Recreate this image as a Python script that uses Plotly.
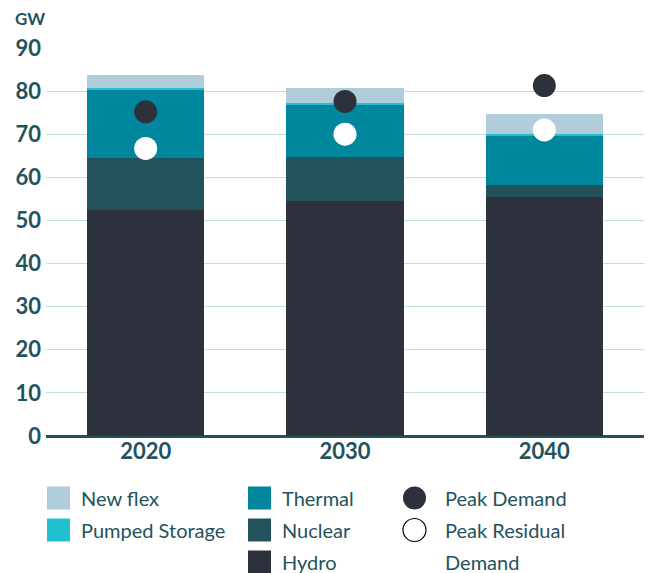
import plotly.graph_objects as go

# Installed capacity by source (GW) and peak demand markers
years = ["2020", "2030", "2040"]
hydro = [52.4, 54.4, 55.5]
nuclear = [12.2, 10.4, 2.7]
thermal = [15.7, 12.0, 11.4]
pumped_storage = [0.4, 0.4, 0.4]
new_flex = [3.1, 3.6, 4.6]
peak_demand = [75.2, 77.6, 81.3]
peak_residual_demand = [66.7, 70.0, 71.0]

y_ticks = [0, 10, 20, 30, 40, 50, 60, 70, 80, 90]

TEXT = "#24525c"
FONT = "Lato"

stack = [
    ("Hydro", hydro, "#2d313b"),
    ("Nuclear", nuclear, "#24525c"),
    ("Thermal", thermal, "#00879e"),
    ("Pumped Storage", pumped_storage, "#22c0d0"),
    ("New flex", new_flex, "#b0cdd9"),
]

fig = go.Figure()
for name, vals, col in stack:
    fig.add_trace(go.Bar(x=years, y=vals, name=name, marker=dict(color=col, line=dict(width=0)),
                         width=0.59, showlegend=False))

fig.add_trace(go.Scatter(x=years, y=peak_demand, mode="markers", name="Peak Demand",
                         marker=dict(size=23, color="#2d313b", line=dict(width=0)), showlegend=False))
fig.add_trace(go.Scatter(x=years, y=peak_residual_demand, mode="markers", name="Peak Residual Demand",
                         marker=dict(size=23, color="#ffffff", line=dict(width=0)), showlegend=False))

colors = {n: c for n, _, c in stack}

W, H = 656, 573
ML, MR, MT, MB = 46, 12, 48, 137
PW, PH = W - ML - MR, H - MT - MB

# Hand-built three-column legend below the plot (pixel helpers -> paper coords)
shapes = []
annotations = []


def px(x):
    return (x - ML) / PW


def py(y):
    return (H - MB - y) / PH


def swatch(x0, yc, color):
    shapes.append(dict(type="rect", xref="paper", yref="paper",
                       x0=px(x0), x1=px(x0 + 23), y0=py(yc + 11.5), y1=py(yc - 11.5),
                       fillcolor=color, line=dict(width=0)))


def label(x0, yc, text):
    annotations.append(dict(text=text, xref="paper", yref="paper", x=px(x0), y=py(yc),
                            xanchor="left", yanchor="middle", showarrow=False,
                            font=dict(family=FONT, size=20, color=TEXT)))


rows = [498, 530, 562]
swatch(47, rows[0], colors["New flex"]); label(79, rows[0], "New flex")
swatch(47, rows[1], colors["Pumped Storage"]); label(79, rows[1], "Pumped Storage")
swatch(248, rows[0], colors["Thermal"]); label(280, rows[0], "Thermal")
swatch(248, rows[1], colors["Nuclear"]); label(280, rows[1], "Nuclear")
swatch(248, rows[2], colors["Hydro"]); label(280, rows[2], "Hydro")

for yc, fill, lw in [(rows[0], "#2d313b", 0), (rows[1], "#ffffff", 1.2)]:
    shapes.append(dict(type="circle", xref="paper", yref="paper",
                       x0=px(403), x1=px(426), y0=py(yc + 11.5), y1=py(yc - 11.5),
                       fillcolor=fill, line=dict(width=lw, color="#000000")))
label(443, rows[0], "Peak Demand")
label(443, rows[1], "Peak Residual")
label(443, rows[2], "Demand")

annotations.append(dict(text="<b>GW</b>", xref="paper", yref="paper", x=px(13), y=py(18),
                        xanchor="left", yanchor="middle", showarrow=False,
                        font=dict(family=FONT, size=17, color=TEXT)))

fig.update_layout(
    width=W, height=H,
    margin=dict(l=ML, r=MR, t=MT, b=MB),
    barmode="stack",
    paper_bgcolor="white", plot_bgcolor="white",
    font=dict(family=FONT, color=TEXT),
    shapes=shapes, annotations=annotations,
    showlegend=False,
)
fig.update_xaxes(showgrid=False, showline=False, ticks="",
                 tickfont=dict(family=FONT, size=22, color=TEXT, weight="bold"))
fig.update_yaxes(range=[0, 90], tickvals=y_ticks, showgrid=True, gridcolor="#c5dce4", gridwidth=1,
                 zeroline=True, zerolinecolor=TEXT, zerolinewidth=3,
                 tickfont=dict(family=FONT, size=22, color=TEXT, weight="bold"), ticklabelstandoff=4)

fig.write_html("out.html")
